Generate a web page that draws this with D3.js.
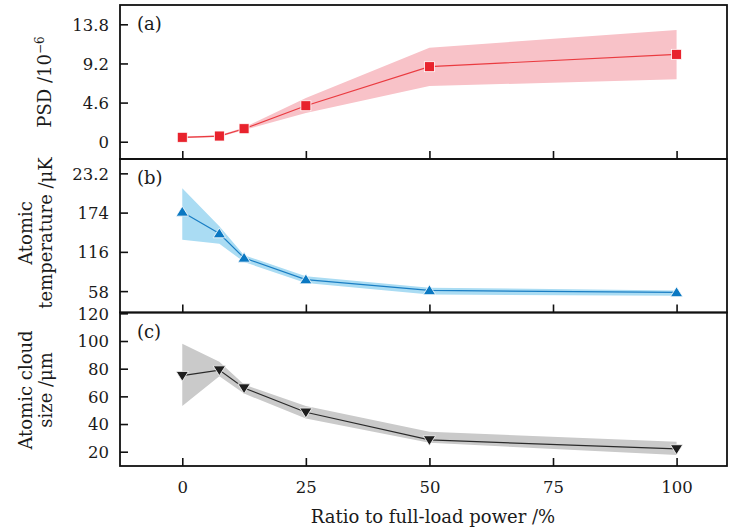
<!DOCTYPE html>
<html>
<head>
<meta charset="utf-8">
<script src="https://cdn.jsdelivr.net/npm/d3@7"></script>
<style>
  html, body { margin: 0; padding: 0; background: #fff; }
  svg { display: block; }
  text { font-family: "DejaVu Serif", serif; fill: #1a1a1a; }
</style>
</head>
<body>
<svg id="chart" width="729" height="529"></svg>
<script>
// ---------- data ----------
const ratio = [0, 7.5, 12.5, 25, 50, 100];
const xTicks = [0, 25, 50, 75, 100];

const psd      = [0.52, 0.67, 1.53, 4.23, 8.82, 10.27];
const psdLow   = [0.42, 0.57, 1.38, 3.37, 6.55, 7.33];
const psdHigh  = [0.62, 0.77, 1.68, 5.14, 11.05, 13.13];
const psdTicks = [0, 4.6, 9.2, 13.8];
const psdTickLabels = ["0", "4.6", "9.2", "13.8"];

const temp      = [175, 143, 107, 75, 59, 56];
const tempLow   = [134, 128, 101, 70, 53, 51];
const tempHigh  = [210, 154, 111, 80, 63, 59];
const tempTicks = [58, 116, 174, 232];
const tempTickLabels = ["58", "116", "174", "23.2"];

const cloud      = [75, 79, 66, 48.5, 28.5, 22];
const cloudLow   = [53, 74.5, 62, 44, 26.5, 17.6];
const cloudHigh  = [98, 85, 68.5, 53, 34.4, 27.2];
const cloudTicks = [20, 40, 60, 80, 100, 120];
const cloudTickLabels = ["20", "40", "60", "80", "100", "120"];

// ---------- layout ----------
const svg = d3.select("#chart");
const left = 120, right = 727;
const x = d3.scaleLinear().domain([-12.6, 110.2]).range([left, right]);

const panels = [
  { key: "a", top: 5, bottom: 159, domain: [-2.03, 16.07],
    vals: psd, lo: psdLow, hi: psdHigh, ticks: psdTicks, labels: psdTickLabels,
    color: "#e8232d", line: "#ea3b40", band: "#f8c2c8", symbol: "square" },
  { key: "b", top: 159, bottom: 312.5, domain: [26.4, 253.2],
    vals: temp, lo: tempLow, hi: tempHigh, ticks: tempTicks, labels: tempTickLabels,
    color: "#0a78c2", line: "#1a7ec4", band: "#aadcf3", symbol: "up" },
  { key: "c", top: 312.5, bottom: 466, domain: [9.67, 120.6],
    vals: cloud, lo: cloudLow, hi: cloudHigh, ticks: cloudTicks, labels: cloudTickLabels,
    color: "#1e1e1e", line: "#2a2a2a", band: "#cacaca", symbol: "down" }
];

panels.forEach(p => {
  const y = d3.scaleLinear().domain(p.domain).range([p.bottom, p.top]);
  const g = svg.append("g");

  // band
  const area = d3.area()
    .x((d, i) => x(ratio[i]))
    .y0((d, i) => y(p.lo[i]))
    .y1((d, i) => y(p.hi[i]));
  g.append("path").datum(p.vals).attr("d", area).attr("fill", p.band);

  // line
  const line = d3.line().x((d, i) => x(ratio[i])).y(d => y(d));
  g.append("path").datum(p.vals).attr("d", line)
    .attr("fill", "none").attr("stroke", p.line).attr("stroke-width", 1.2);

  // markers
  const pts = g.selectAll(".pt").data(p.vals).enter();
  if (p.symbol === "square") {
    pts.append("rect")
      .attr("x", (d, i) => x(ratio[i]) - 5)
      .attr("y", d => y(d) - 5)
      .attr("width", 10).attr("height", 10)
      .attr("fill", p.color).attr("stroke", "#fff").attr("stroke-width", 0.8);
  } else {
    const s = 5.6;
    pts.append("path")
      .attr("d", (d, i) => {
        const cx = x(ratio[i]), cy = y(d);
        if (p.symbol === "up")
          return `M${cx},${cy - s}L${cx + s * 1.1},${cy + s * 0.75}L${cx - s * 1.1},${cy + s * 0.75}Z`;
        return `M${cx},${cy + s}L${cx + s * 1.1},${cy - s * 0.75}L${cx - s * 1.1},${cy - s * 0.75}Z`;
      })
      .attr("fill", p.color).attr("stroke", "#fff").attr("stroke-width", 0.8);
  }

  // y axis (inward ticks)
  const yAxis = d3.axisRight(y).tickValues(p.ticks)
    .tickFormat((d, i) => p.labels[i]).tickSize(8).tickPadding(0);
  const ya = g.append("g").attr("transform", `translate(${left},0)`).call(yAxis);
  ya.select(".domain").remove();
  ya.selectAll(".tick line").attr("stroke", "#111").attr("stroke-width", 1.6);
  ya.selectAll(".tick text")
    .attr("x", -11).attr("text-anchor", "end").attr("dy", "0.36em")
    .style("font-size", "16.5px").style("font-family", "DejaVu Serif").attr("fill", "#1a1a1a");

  // x axis ticks (inward, pointing up)
  const xAxis = d3.axisTop(x).tickValues(xTicks).tickSize(8).tickFormat("");
  const xa = g.append("g").attr("transform", `translate(0,${p.bottom})`).call(xAxis);
  xa.select(".domain").remove();
  xa.selectAll(".tick line").attr("stroke", "#111").attr("stroke-width", 1.6);

  // frame
  g.append("rect").attr("x", left).attr("y", p.top)
    .attr("width", right - left).attr("height", p.bottom - p.top)
    .attr("fill", "none").attr("stroke", "#111").attr("stroke-width", 1.8);

  // panel label
  g.append("text").attr("x", 137).attr("y", p.top + 25)
    .style("font-size", "18px").text(`(${p.key})`);
});

// x tick labels
const xl = d3.axisBottom(x).tickValues(xTicks).tickSize(0).tickPadding(0);
const xlg = svg.append("g").attr("transform", "translate(0,466)").call(xl);
xlg.select(".domain").remove();
xlg.selectAll(".tick text").attr("y", 27).attr("dy", 0)
  .style("font-size", "16.5px").style("font-family", "DejaVu Serif").attr("fill", "#1a1a1a");

// x title
svg.append("text").attr("x", 433).attr("y", 523).attr("text-anchor", "middle")
  .style("font-size", "18px").text("Ratio to full-load power /%");

// y titles
function yTitle(cx, cy) {
  return svg.append("text").attr("transform", `translate(${cx},${cy}) rotate(-90)`)
    .attr("text-anchor", "middle").style("font-size", "18px");
}
const tA = yTitle(51, 82);
tA.append("tspan").text("PSD /10");
tA.append("tspan").attr("dy", -7).style("font-size", "12px").text("−6");

yTitle(32, 233).text("Atomic");
yTitle(52, 233).text("temperature /μK");

yTitle(32, 390).text("Atomic cloud");
yTitle(52, 390).text("size /μm");
</script>
</body>
</html>
